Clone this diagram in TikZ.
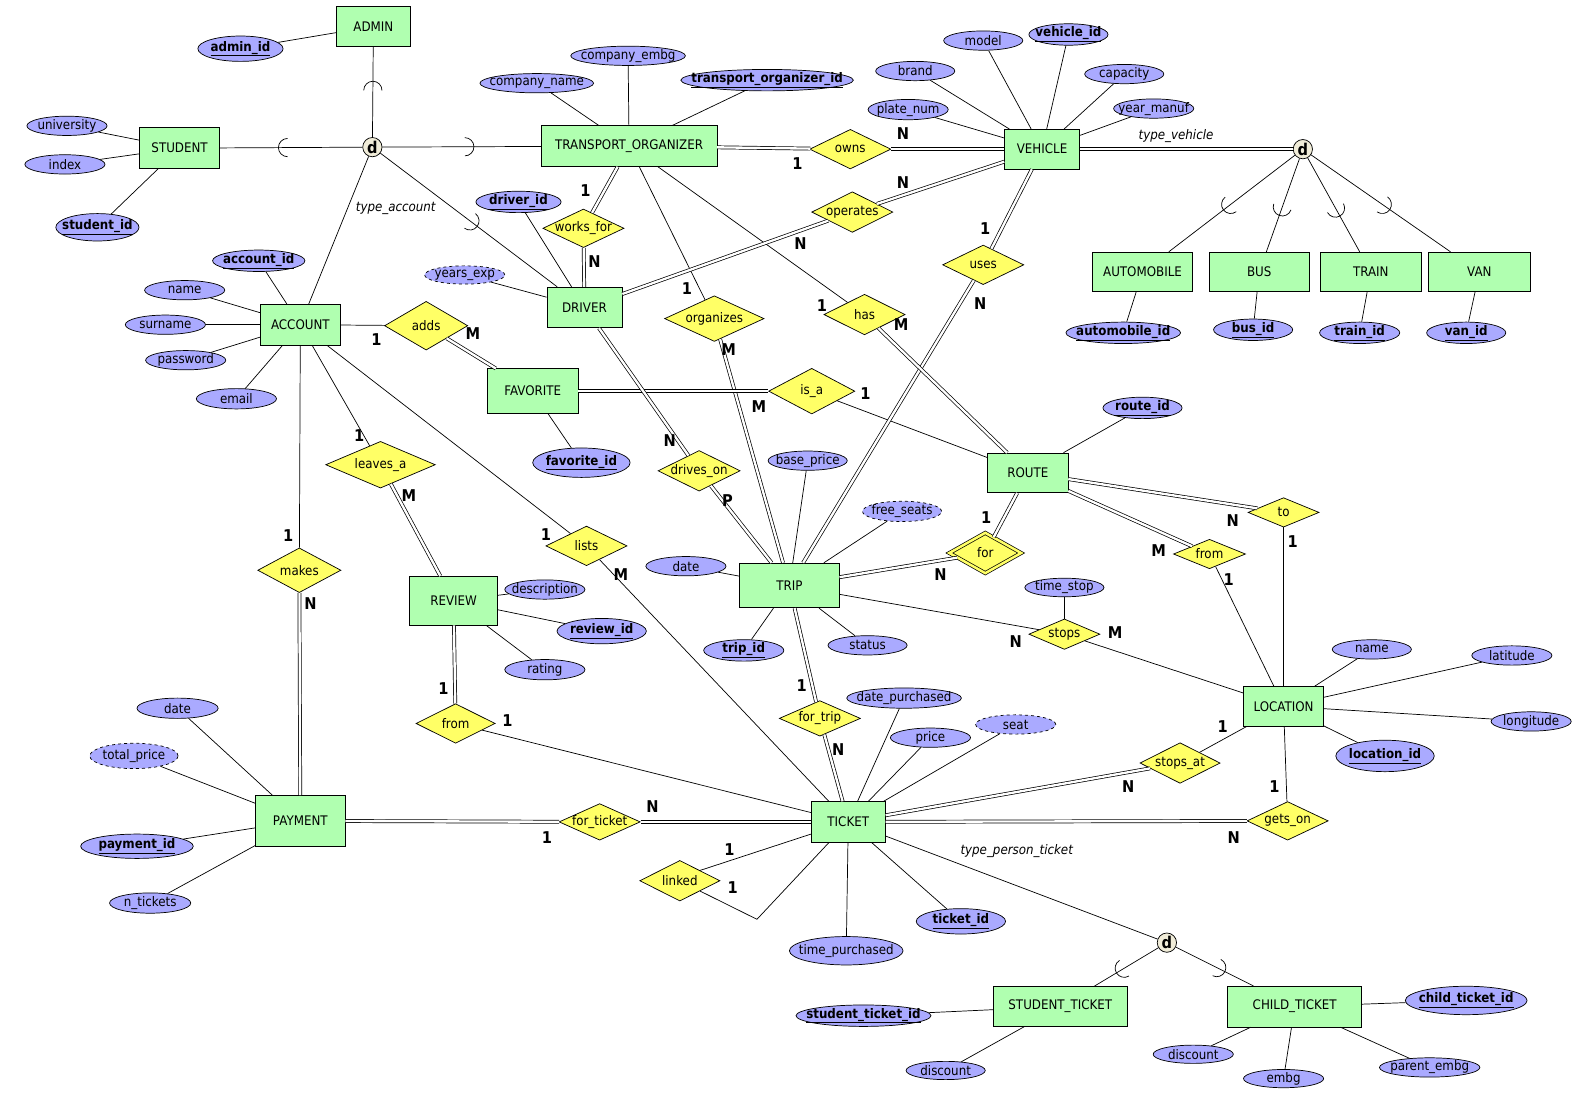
\documentclass[tikz,border=0pt]{standalone}
\usepackage{fontspec}
\setmainfont{DejaVu Sans}[FakeStretch=0.9]
\usetikzlibrary{shapes.geometric,calc}

\definecolor{entfill}{RGB}{176,255,176}
\definecolor{attfill}{RGB}{170,170,255}
\definecolor{relfill}{RGB}{255,255,102}
\definecolor{dfill}{RGB}{240,236,216}

% subset arc on a specialization line, #3 = place along the line
\newcommand\subarc[3]{%
  \draw let \p1=($(#2)-(#1)$), \n1={atan2(\y1,\x1)+90}, \n2={atan2(\y1,\x1)-90} in
    ($(#1)!#3!(#2)$) ++(\n1:9pt) arc[start angle=\n1, end angle=\n2, radius=9pt];}

\begin{document}
\begin{tikzpicture}
  [x=1pt,y=-1pt,line width=0.7pt,
   every node/.style={font=\fontsize{13}{15}\selectfont},
   entity/.style={draw,fill=entfill,minimum height=39pt,inner sep=0pt},
   attr/.style={ellipse,draw,fill=attfill,inner sep=0pt,minimum width=79pt,minimum height=19pt,
     execute at begin node={\hbox to 0pt\bgroup\hss},execute at end node={\hss\egroup}},
   key/.style={attr,font=\fontsize{13}{15}\selectfont\bfseries},
   derived/.style={attr,dashed},
   rel/.style={diamond,draw,fill=relfill,inner sep=0pt,minimum width=80pt,minimum height=39pt,
     execute at begin node={\hbox to 0pt\bgroup\hss},execute at end node={\hss\egroup}},
   weak/.style={rel,double=relfill,double distance=2.5pt},
   disj/.style={circle,draw,fill=dfill,inner sep=0pt,minimum size=19pt,font=\fontsize{16}{18}\selectfont\bfseries},
   card/.style={inner sep=0pt,font=\fontsize{16}{18}\selectfont\bfseries},
   lbl/.style={inner sep=0pt,font=\fontsize{13}{15}\selectfont\itshape},
   dbl/.style={double,double distance=2.3pt}]
  \useasboundingbox (0,0) rectangle (1568,1092);

  % entities
  \node[entity,minimum width=73pt] (admin) at (368,26) {ADMIN};
  \node[entity,minimum width=79pt,minimum height=40pt] (student) at (177,146) {STUDENT};
  \node[entity,minimum width=173pt,minimum height=40pt] (torg) at (620,144) {TRANSPORT\_ORGANIZER};
  \node[entity,minimum width=74pt] (vehicle) at (1027,147) {VEHICLE};
  \node[entity,minimum width=99pt] (auto) at (1126,268) {AUTOMOBILE};
  \node[entity,minimum width=98pt] (bus) at (1241,268) {BUS};
  \node[entity,minimum width=100pt] (train) at (1351,268) {TRAIN};
  \node[entity,minimum width=100pt] (van) at (1458,268) {VAN};
  \node[entity,minimum width=79pt,minimum height=40pt] (account) at (296,320) {ACCOUNT};
  \node[entity,minimum width=74pt,minimum height=40pt] (driver) at (576,303) {DRIVER};
  \node[entity,minimum width=89pt,minimum height=44pt] (favorite) at (525,385.5) {FAVORITE};
  \node[entity,minimum width=79pt] (route) at (1013,466) {ROUTE};
  \node[entity,minimum width=98pt,minimum height=44pt] (trip) at (778,577) {TRIP};
  \node[entity,minimum width=87pt,minimum height=48pt] (review) at (447,592) {REVIEW};
  \node[entity,minimum width=79pt] (location) at (1265,696) {LOCATION};
  \node[entity,minimum width=88pt,minimum height=50pt] (payment) at (296,809) {PAYMENT};
  \node[entity,minimum width=73pt,minimum height=40pt] (ticket) at (836,810) {TICKET};
  \node[entity,minimum width=132pt] (sticket) at (1045,992) {STUDENT\_TICKET};
  \node[entity,minimum width=132pt,minimum height=40pt] (cticket) at (1276,992) {CHILD\_TICKET};

  % specializations
  \node[disj] (dacc) at (367,145) {d};
  \node[disj] (dveh) at (1284,147) {d};
  \node[disj] (dtick) at (1150,929) {d};
  \node[lbl] (tacc) at (390,205) {type\_account};
  \node[lbl] (tveh) at (1159,134) {type\_vehicle};
  \node[lbl] (ttick) at (1002,839) {type\_person\_ticket};

  % relationships
  \node[rel] (rowns) at (838,147) {owns};
  \node[rel,minimum height=38pt] (rworks) at (575,225) {works\_for};
  \node[rel,minimum height=40pt] (roper) at (840,209) {operates};
  \node[rel] (ruses) at (969,261) {uses};
  \node[rel,minimum width=98pt,minimum height=45pt] (rorg) at (704,314) {organizes};
  \node[rel,minimum height=40pt] (rhas) at (852,310) {has};
  \node[rel,minimum width=82pt,minimum height=48pt] (radds) at (420,321) {adds};
  \node[rel,minimum width=85pt,minimum height=45pt] (risa) at (800,385.5) {is\_a};
  \node[rel,minimum width=108pt,minimum height=46pt] (rleaves) at (375,458) {leaves\_a};
  \node[rel,minimum width=81pt,minimum height=40pt] (rdrives) at (689,464) {drives\_on};
  \node[rel] (rlists) at (578,538) {lists};
  \node[rel,minimum width=82pt,minimum height=44pt] (rmakes) at (295,562) {makes};
  \node[weak,minimum width=71pt,minimum height=40pt] (rfor) at (971,545) {for};
  \node[rel,minimum width=70pt,minimum height=29pt] (rto) at (1265,505) {to};
  \node[rel,minimum width=71pt,minimum height=29pt] (rfromr) at (1192,546) {from};
  \node[rel,minimum width=70pt,minimum height=30pt] (rstops) at (1049,625) {stops};
  \node[rel,minimum width=78pt] (rfromv) at (449,713) {from};
  \node[rel,minimum height=35pt] (rfortrip) at (808,708) {for\_trip};
  \node[rel,minimum width=79pt,minimum height=40pt] (rstopsat) at (1163,752) {stops\_at};
  \node[rel,minimum height=36pt] (rforticket) at (591,810) {for\_ticket};
  \node[rel,minimum height=38pt] (rgetson) at (1269,809) {gets\_on};
  \node[rel,minimum width=79pt,minimum height=40pt] (rlinked) at (670,868) {linked};

  % attributes
  \node[key,minimum width=84pt,minimum height=25pt] (aadminid) at (237,48) {\underline{admin\_id}};
  \node[attr] (auniv) at (66,124) {university};
  \node[attr] (aindex) at (64,162) {index};
  \node[key,minimum width=82pt,minimum height=27pt] (astudid) at (96,224) {\underline{student\_id}};
  \node[attr,minimum width=112pt] (acname) at (529,82) {company\_name};
  \node[attr,minimum width=113pt] (acembg) at (619,55) {company\_embg};
  \node[key,minimum width=170pt] (atoid) at (756,79) {\underline{transport\_organizer\_id}};
  \node[attr,minimum width=78pt] (amodel) at (969,40) {model};
  \node[key,minimum width=78pt,minimum height=18pt] (avehid) at (1053,34) {\underline{vehicle\_id}};
  \node[attr,minimum width=78pt] (abrand) at (902,70) {brand};
  \node[attr,minimum width=78pt] (acap) at (1108,73) {capacity};
  \node[attr,minimum height=20pt] (aplate) at (895,108) {plate\_num};
  \node[attr] (ayear) at (1137,107) {year\_manuf};
  \node[key,minimum width=113pt] (aautoid) at (1107,328) {\underline{automobile\_id}};
  \node[key,minimum width=78pt] (abusid) at (1235,325) {\underline{bus\_id}};
  \node[key] (atrainid) at (1340,328) {\underline{train\_id}};
  \node[key,minimum width=78pt] (avanid) at (1445,328) {\underline{van\_id}};
  \node[key,minimum width=84pt] (adrvid) at (511,199) {\underline{driver\_id}};
  \node[derived,minimum height=18pt] (ayexp) at (458,271) {years\_exp};
  \node[key,minimum width=91pt] (aaccid) at (255,257) {\underline{account\_id}};
  \node[attr] (aname) at (182,286) {name};
  \node[attr] (asurn) at (163,320) {surname};
  \node[attr] (apass) at (183,355) {password};
  \node[attr,minimum height=20pt] (aemail) at (233,393) {email};
  \node[key,minimum width=96pt,minimum height=29pt] (afavid) at (573,456) {\underline{favorite\_id}};
  \node[attr,minimum width=78pt] (abprice) at (796,454) {base\_price};
  \node[derived,minimum width=78pt,minimum height=20pt] (afseats) at (889,504) {free\_seats};
  \node[attr] (atdate) at (676,558) {date};
  \node[key] (atripid) at (733,641) {\underline{trip\_id}};
  \node[attr,minimum width=78pt] (astatus) at (855,636) {status};
  \node[key,minimum width=78pt] (arouteid) at (1126,402) {\underline{route\_id}};
  \node[attr,minimum width=78pt,minimum height=18pt] (atstop) at (1049,579) {time\_stop};
  \node[attr,minimum width=78pt] (alname) at (1352,640) {name};
  \node[attr] (alat) at (1490,646) {latitude};
  \node[attr] (alon) at (1509,711) {longitude};
  \node[key,minimum width=97pt,minimum height=31pt] (alocid) at (1365,745) {\underline{location\_id}};
  \node[attr] (adesc) at (537,581) {description};
  \node[key,minimum width=88pt,minimum height=25pt] (arevid) at (593,622) {\underline{review\_id}};
  \node[attr,minimum height=20pt] (arating) at (537,660) {rating};
  \node[attr,minimum width=80pt,minimum height=20pt] (apdate) at (175,698) {date};
  \node[derived,minimum width=87pt,minimum height=25pt] (atprice) at (132,745) {total\_price};
  \node[key,minimum width=111pt,minimum height=24pt] (apayid) at (135,834) {\underline{payment\_id}};
  \node[attr,minimum width=80pt,minimum height=20pt] (antick) at (148,890) {n\_tickets};
  \node[attr,minimum width=113pt,minimum height=20pt] (adpurch) at (891,688) {date\_purchased};
  \node[attr] (aprice) at (917,727) {price};
  \node[derived] (aseat) at (1001,714) {seat};
  \node[attr,minimum width=112pt,minimum height=28pt] (atpurch) at (834,937) {time\_purchased};
  \node[key,minimum width=88pt,minimum height=25pt] (aticketid) at (947,908) {\underline{ticket\_id}};
  \node[key,minimum width=133pt] (astid) at (851,1001) {\underline{student\_ticket\_id}};
  \node[attr,minimum width=78pt,minimum height=18pt] (asdisc) at (932,1055) {discount};
  \node[attr,minimum height=18pt] (acdisc) at (1176,1039) {discount};
  \node[attr,minimum height=18pt] (aembg) at (1265,1063) {embg};
  \node[attr,minimum width=99pt] (apembg) at (1409,1052) {parent\_embg};
  \node[key,minimum width=120pt,minimum height=28pt] (actid) at (1445,986) {\underline{child\_ticket\_id}};

  % attribute lines
  \foreach \from/\to in {aadminid/admin,auniv/student,aindex/student,astudid/student,
      acname/torg,acembg/torg,atoid/torg,amodel/vehicle,avehid/vehicle,abrand/vehicle,
      acap/vehicle,aplate/vehicle,ayear/vehicle,aautoid/auto,abusid/bus,atrainid/train,
      avanid/van,adrvid/driver,ayexp/driver,aaccid/account,aname/account,asurn/account,
      apass/account,aemail/account,afavid/favorite,abprice/trip,afseats/trip,atdate/trip,
      atripid/trip,astatus/trip,arouteid/route,atstop/rstops,alname/location,alat/location,
      alon/location,alocid/location,adesc/review,arevid/review,arating/review,
      apdate/payment,atprice/payment,apayid/payment,antick/payment,adpurch/ticket,
      aprice/ticket,aseat/ticket,atpurch/ticket,aticketid/ticket,astid/sticket,
      asdisc/sticket,acdisc/cticket,aembg/cticket,apembg/cticket,actid/cticket}
    \draw (\from) -- (\to);

  % partial participation
  \foreach \from/\to in {dacc/account,torg/rorg,torg/rhas,account/radds,risa/route,
      account/rleaves,account/rlists,rlists/ticket,account/rmakes,rto/location,
      rfromr/location,trip/rstops,rstops/location,rfromv/ticket,rstopsat/location,
      rgetson/location,ticket/dtick}
    \draw (\from) -- (\to);

  % total participation
  \foreach \from/\to in {dveh/vehicle,torg/rowns,rowns/vehicle,torg/rworks,rworks/driver,
      driver/roper,roper/vehicle,vehicle/ruses,ruses/trip,rorg/trip,rhas/route,
      radds/favorite,favorite/risa,rleaves/review,driver/rdrives,rdrives/trip,
      rmakes/payment,route/rfor,rfor/trip,route/rto,route/rfromr,review/rfromv,
      trip/rfortrip,rfortrip/ticket,ticket/rstopsat,payment/rforticket,
      rforticket/ticket,ticket/rgetson}
    \draw [dbl] (\from) -- (\to);

  % recursive linked
  \coordinate (lkbend) at (746,906);
  \draw (ticket) -- (rlinked.north east);
  \draw (rlinked.south east) -- (lkbend) -- (ticket);

  % subclasses
  \foreach \genr/\subc/\arcpos in {dacc/admin/0.47,dacc/student/0.44,dacc/torg/0.36,
      dacc/driver/0.46,dveh/auto/0.45,dveh/bus/0.47,dveh/train/0.48,dveh/van/0.45,
      dtick/sticket/0.40,dtick/cticket/0.39}
    {\draw (\genr) -- (\subc);
     \subarc{\genr}{\subc}{\arcpos}}

  % cardinalities
  \foreach \x/\y/\c [count=\i] in {786/161/1,890/132/N,577/188/1,586/258/N,
      789/240/N,890/180/N,971/225/1,966/299/N,677/284/1,718/345/M,810/301/1,888/320/M,
      371/335/1,466/329/M,748/401/M,853/388/1,354/429/1,403/488/M,660/434/N,717/493/P,
      538/527/1,612/566/M,284/528/1,306/595/N,972/510/1,927/566/N,1215/513/N,1274/534/1,
      1142/543/M,1211/571/1,1001/632/N,1099/623/M,437/679/1,500/710/1,790/676/1,826/739/N,
      1112/775/N,1205/716/1,539/825/1,643/795/N,1216/825/N,1256/775/1,719/837/1,722/875/1}
    \node[card] (card\i) at (\x,\y) {\c};
\end{tikzpicture}
\end{document}
